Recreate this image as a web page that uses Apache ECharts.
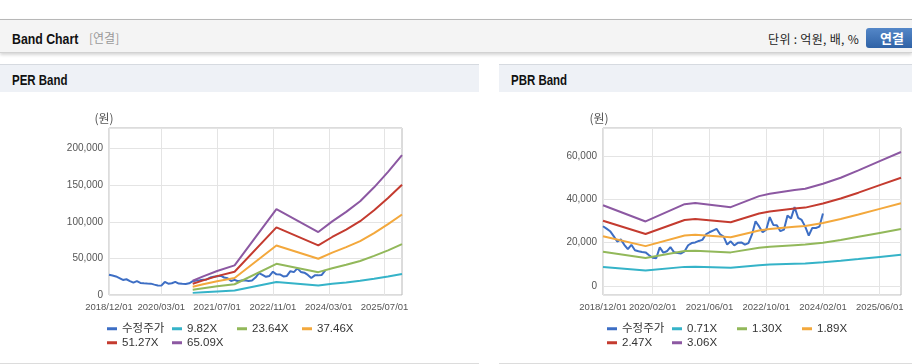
<!DOCTYPE html>
<html>
<head>
<meta charset="utf-8">
<script src="https://cdn.jsdelivr.net/npm/echarts@6.0.0/dist/echarts.min.js"></script>
<style>
  html, body { margin:0; padding:0; }
  body { width:912px; height:364px; position:relative; overflow:hidden; background:#fff; font-family:'Liberation Sans','Noto Sans CJK KR',sans-serif; }
  .topbar { position:absolute; left:0; top:19px; width:912px; height:32px; background:#f4f4f4; border-top:1px solid #b7b7b7; border-bottom:1px solid #d2d2d2; box-shadow:0 2px 3px rgba(0,0,0,0.16); }
  .abs { position:absolute; white-space:nowrap; }
  .title { font-family:'Liberation Sans',sans-serif; font-weight:bold; color:#111; line-height:normal; transform:scaleX(0.82); transform-origin:0 0; }
  .panel { position:absolute; top:64px; height:299px; background:#fff; border-bottom:1px solid #dcdcdc; }
  .phead { position:absolute; left:0; top:0; right:0; height:27px; background:#eef1f6; border-top:1px solid #d6dae0; }
  .btn { position:absolute; left:866px; top:28px; width:52px; height:20px; border-radius:3px; background:linear-gradient(#5487c8,#2f62a6); color:#fff; font-family:'Noto Sans CJK KR',sans-serif; font-weight:bold; font-size:13px; line-height:20px; text-align:center; }
  #chart { position:absolute; left:0; top:0; width:912px; height:364px; z-index:5; }
</style>
</head>
<body>
<div class="topbar"></div>
<div class="abs title" style="left:12px; top:30px; font-size:15px;">Band Chart</div>
<div class="abs" style="left:89px; top:29px; font-size:12px; line-height:18px; color:#999; font-family:'Noto Sans CJK KR',sans-serif;">[연결]</div>
<div class="abs" style="right:53px; top:30px; font-size:12px; line-height:18px; color:#222; font-family:'Noto Sans CJK KR',sans-serif; letter-spacing:0.3px;">단위 : 억원, 배, %</div>
<div class="btn">연결</div>

<div class="panel" style="left:0; width:479px;"><div class="phead"></div></div>
<div class="panel" style="left:499px; width:413px;"><div class="phead"></div></div>
<div class="abs title" style="left:12px; top:72px; font-size:14px;">PER Band</div>
<div class="abs title" style="left:511px; top:72px; font-size:14px;">PBR Band</div>

<div id="chart"></div>
<script>
// ---------- data ----------
const categories = [
  '2018/12/01',
  '2019/01/01','2019/02/01','2019/03/01','2019/04/01','2019/05/01','2019/06/01','2019/07/01','2019/08/01','2019/09/01','2019/10/01','2019/11/01','2019/12/01',
  '2020/01/01','2020/02/01','2020/03/01','2020/04/01','2020/05/01','2020/06/01','2020/07/01','2020/08/01','2020/09/01','2020/10/01','2020/11/01','2020/12/01',
  '2021/01/01','2021/02/01','2021/03/01','2021/04/01','2021/05/01','2021/06/01','2021/07/01','2021/08/01','2021/09/01','2021/10/01','2021/11/01','2021/12/01',
  '2022/01/01','2022/02/01','2022/03/01','2022/04/01','2022/05/01','2022/06/01','2022/07/01','2022/08/01','2022/09/01','2022/10/01','2022/11/01','2022/12/01',
  '2023/01/01','2023/02/01','2023/03/01','2023/04/01','2023/05/01','2023/06/01','2023/07/01','2023/08/01','2023/09/01','2023/10/01','2023/11/01','2023/12/01',
  '2024/01/01','2024/02/01','2024/03/01','2024/04/01','2024/05/01','2024/06/01','2024/07/01','2024/08/01','2024/09/01','2024/10/01','2024/11/01','2024/12/01',
  '2025/01/01','2025/02/01','2025/03/01','2025/04/01','2025/05/01','2025/06/01','2025/07/01','2025/08/01','2025/09/01','2025/10/01','2025/11/01','2025/12/01'
];
const perTickLabels = ['2018/12/01','2020/03/01','2021/07/01','2022/11/01','2024/03/01','2025/07/01'];
const pbrTickLabels = ['2018/12/01','2020/02/01','2021/06/01','2022/10/01','2024/02/01','2025/06/01'];

// 수정주가 (monthly, 2018/12 .. 2024/02)
const price = [
  27600,26500,25300,23000,20500,21500,19000,17000,19000,16500,16000,15700,15500,14200,13000,
  12800,17800,15400,16000,17900,15600,15200,15000,16000,18800,19800,20100,20800,21300,23800,
  24800,25600,26400,23900,22800,19100,20600,18700,19900,20100,19100,19800,23800,29900,27500,
  24800,26000,31800,28200,28000,25300,26000,32500,31200,36400,31500,30500,27400,23300,26800,
  26800,27400,33500
];

// PER band (key dates and values)
const perDates = ['2020/12/01','2021/03/01','2021/07/01','2021/12/01','2022/12/01','2023/12/01','2024/04/01','2024/08/01','2024/12/01','2025/04/01','2025/08/01','2025/12/01'];
const perNames = ['9.82X','23.64X','37.46X','51.27X','65.09X'];
const per1 = [2900,3800,4900,6100,17700,13000,15200,17100,19300,22200,25300,28800];
const per2 = [7100,9200,11900,14700,42600,31200,36500,41200,46500,53400,61000,69400];
const per3 = [11200,14600,18900,23300,67500,49500,57800,65300,73600,84600,96700,109900];
const per4 = [15400,20000,25800,31800,92400,67700,79200,89400,100800,115800,132300,150400];
const per5 = [19500,25400,32800,40400,117300,86000,100500,113500,128000,147000,168000,191000];

// PBR band (key dates and values)
const pbrDates = ['2018/12/01','2019/12/01','2020/11/01','2021/02/01','2021/12/01','2022/08/01','2022/11/01','2023/06/01','2023/09/01','2024/02/01','2024/07/01','2024/12/01','2025/06/01','2025/12/01'];
const pbrNames = ['0.71X','1.30X','1.89X','2.47X','3.06X'];
const pbr1 = [8700,7100,8800,8900,8400,9600,9900,10300,10400,10900,11600,12400,13400,14400];
const pbr2 = [15800,12900,16100,16300,15500,17600,18100,18800,19100,20000,21200,22700,24500,26300];
const pbr3 = [23000,18400,23300,23700,22500,25600,26300,27400,27700,29100,30900,33000,35600,38200];
const pbr4 = [30100,24000,30500,30900,29400,33500,34400,35800,36200,38100,40400,43100,46600,50000];
const pbr5 = [37300,29800,37800,38300,36400,41500,42600,44300,44900,47200,50000,53400,57700,61900];

// ---------- styling ----------
const priceName = '수정주가';
const colors = ['#3d6ec4','#35b3c8','#92b85a','#f3a83c','#c43b2f','#8c58a2'];
const axisFont = "'Liberation Sans',sans-serif";
const legendFont = "'Liberation Sans','Noto Sans CJK KR',sans-serif";

function xAxisFor(gridIndex, ticks) {
  const set = new Set(ticks);
  const show = (i, v) => set.has(v);
  return {
    type:'category', gridIndex, data:categories, boundaryGap:false,
    axisLine:{show:false}, axisTick:{show:false},
    axisLabel:{interval:show, color:'#555', fontSize:9.5, fontFamily:axisFont, margin:7, showMinLabel:true, hideOverlap:false},
    splitLine:{show:true, interval:show, lineStyle:{color:'#e4e4e4', width:1}}
  };
}
function yAxisFor(gridIndex, min, max, splitNumber) {
  return {
    type:'value', gridIndex, min, max, splitNumber,
    axisLine:{show:false}, axisTick:{show:false},
    axisLabel:{color:'#555', fontSize:10, fontFamily:axisFont, margin:6, showMinLabel: min === 0, showMaxLabel:false, hideOverlap:false,
      formatter: v => Number(v).toLocaleString('en-US')},
    splitLine:{show:true, lineStyle:{color:'#e4e4e4', width:1}}
  };
}
function lineSeries(name, idx, data, color) {
  return { type:'line', name, xAxisIndex:idx, yAxisIndex:idx, data, showSymbol:false, symbol:'none',
    lineStyle:{width:2, color}, itemStyle:{color}, emphasis:{disabled:true}, animation:false };
}
function pairs(dates, vals) { return dates.map((d, i) => [d, vals[i]]); }

const series = [
  lineSeries(priceName, 0, price, colors[0]),
  lineSeries(perNames[0], 0, pairs(perDates, per1), colors[1]),
  lineSeries(perNames[1], 0, pairs(perDates, per2), colors[2]),
  lineSeries(perNames[2], 0, pairs(perDates, per3), colors[3]),
  lineSeries(perNames[3], 0, pairs(perDates, per4), colors[4]),
  lineSeries(perNames[4], 0, pairs(perDates, per5), colors[5]),
  lineSeries(priceName, 1, price, colors[0]),
  lineSeries(pbrNames[0], 1, pairs(pbrDates, pbr1), colors[1]),
  lineSeries(pbrNames[1], 1, pairs(pbrDates, pbr2), colors[2]),
  lineSeries(pbrNames[2], 1, pairs(pbrDates, pbr3), colors[3]),
  lineSeries(pbrNames[3], 1, pairs(pbrDates, pbr4), colors[4]),
  lineSeries(pbrNames[4], 1, pairs(pbrDates, pbr5), colors[5])
];

function legendsFor(names, x0) {
  const cols = [0, 65, 130, 195];
  const out = [];
  names.forEach((n, i) => {
    const row = Math.floor(i / 4), col = i % 4;
    out.push({ data:[n], left:x0 + cols[col], top:323 + row * 14, padding:0, itemGap:0,
      icon:'rect', itemWidth:10, itemHeight:3, selectedMode:false,
      textStyle:{fontSize:11.5, color:'#333', fontFamily:legendFont} });
  });
  return out;
}

const option = {
  backgroundColor:'transparent',
  animation:false,
  grid:[
    {left:109, top:128, width:293, height:167, show:true, borderColor:'#b8b8b8', borderWidth:1, backgroundColor:'transparent'},
    {left:603, top:128, width:298, height:167, show:true, borderColor:'#b8b8b8', borderWidth:1, backgroundColor:'transparent'}
  ],
  xAxis:[ xAxisFor(0, perTickLabels), xAxisFor(1, pbrTickLabels) ],
  yAxis:[ yAxisFor(0, 0, 228000, 5), yAxisFor(1, -4200, 73000, 4) ],
  legend:[ ...legendsFor([priceName, ...perNames], 107), ...legendsFor([priceName, ...pbrNames], 607) ],
  graphic:[
    {type:'text', x:104, y:118, style:{text:'(원)', fill:'#555', font:"12px 'Noto Sans CJK KR',sans-serif", textAlign:'center', textVerticalAlign:'middle'}},
    {type:'text', x:599, y:118, style:{text:'(원)', fill:'#555', font:"12px 'Noto Sans CJK KR',sans-serif", textAlign:'center', textVerticalAlign:'middle'}}
  ],
  series
};
const chart = echarts.init(document.getElementById('chart'), null, {renderer:'canvas'});
chart.setOption(option);
</script>
</body>
</html>
